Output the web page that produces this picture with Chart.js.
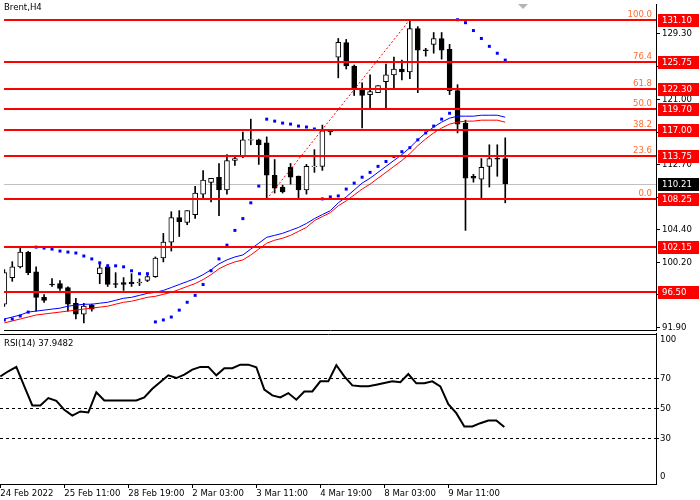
<!DOCTYPE html>
<html>
<head>
<meta charset="utf-8">
<script src="https://cdn.jsdelivr.net/npm/chart.js@4.4.0/dist/chart.umd.min.js"></script>
<style>
  body { margin: 0; background: #fff; overflow: hidden; }
  #wrap { position: relative; width: 700px; height: 500px; }
  .pane { position: absolute; left: 0; width: 700px; }
  #mainPane { top: 0; height: 334px; }
  #rsiPane { top: 332px; height: 168px; }
</style>
</head>
<body>
<div id="wrap">
  <div class="pane" id="mainPane"><canvas id="mainChart"></canvas></div>
  <div class="pane" id="rsiPane"><canvas id="rsiChart"></canvas></div>
</div>
<script>
const FONT = "'DejaVu Sans Condensed', 'Liberation Sans', sans-serif";
const FSIZE = 9.5;

// Brent H4 candles, one per 4 hours, oldest first
const opens = [94.9, 98.27, 99.64, 101.5, 99.0, 95.76, 97.45, 97.5, 97.0, 95.0,
  93.63, 94.76, 98.77, 99.65, 97.5, 97.64, 97.7, 97.6, 97.9, 98.4,
  100.77, 102.78, 105.9, 105.28, 106.29, 108.9, 110.4, 111.05, 109.42, 113.2,
  113.68, 115.75, 115.8, 115.43, 111.3, 109.8, 112.3, 111.18, 109.42, 112.38,
  112.43, 116.94, 126.33, 128.2, 125.2, 122.32, 121.57, 121.82, 123.2, 124.08,
  124.83, 124.45, 129.97, 127.25, 127.96, 128.71, 127.34, 122.07, 117.94, 111.17,
  110.8, 112.43, 113.45, 113.43];
const highs = [99.3, 100.3, 102.15, 101.6, 99.65, 96.1, 98.14, 97.9, 97.1, 95.64,
  95.0, 94.9, 100.1, 99.9, 98.9, 98.27, 98.77, 98.1, 98.77, 100.9,
  103.9, 106.66, 106.8, 106.8, 109.9, 111.9, 110.9, 112.8, 113.93, 113.68,
  116.8, 118.44, 115.9, 116.18, 113.3, 110.04, 112.8, 111.2, 112.68, 114.56,
  117.69, 117.06, 128.71, 128.59, 125.33, 123.08, 124.08, 122.7, 125.46, 126.33,
  125.96, 130.97, 130.22, 127.46, 129.47, 129.47, 127.96, 122.83, 118.31, 111.42,
  113.43, 115.18, 115.18, 116.06];
const lows = [94.6, 97.8, 99.5, 98.64, 94.0, 95.1, 97.14, 96.64, 94.0, 93.0,
  92.5, 94.0, 97.5, 97.14, 97.0, 96.64, 97.14, 97.26, 97.76, 98.3,
  100.27, 101.65, 103.5, 105.0, 105.8, 108.4, 107.9, 106.16, 108.9, 112.55,
  113.55, 115.18, 112.68, 108.4, 109.04, 109.04, 110.17, 108.4, 108.9, 111.67,
  111.92, 116.44, 123.7, 124.83, 121.45, 117.31, 119.82, 121.8, 119.82, 122.45,
  123.45, 123.58, 121.82, 126.46, 126.84, 126.08, 121.57, 116.69, 104.28, 110.42,
  108.4, 109.8, 111.17, 107.79];
const closes = [98.9, 99.65, 101.52, 98.9, 95.76, 95.38, 97.35, 96.89, 94.9, 93.63,
  94.63, 94.26, 99.52, 97.39, 97.4, 97.4, 97.5, 97.7, 98.4, 100.77,
  102.78, 105.91, 105.4, 106.8, 109.04, 110.67, 110.9, 109.42, 113.18, 113.43,
  115.81, 115.85, 115.18, 111.3, 109.67, 109.17, 111.05, 109.42, 112.43, 112.48,
  116.94, 116.86, 128.21, 125.21, 122.32, 121.45, 121.95, 122.7, 124.08, 124.83,
  124.45, 129.97, 127.21, 127.15, 128.71, 127.21, 122.07, 117.81, 110.92, 110.92,
  112.3, 113.43, 113.35, 110.21];

// moving averages (blue fast, red slow)
const maBlue = [93.00, 93.25, 93.51, 93.88, 94.01, 94.13, 94.26, 94.38, 94.63, 94.76,
  94.88, 94.88, 95.01, 95.13, 95.38, 95.64, 95.76, 96.01, 96.26, 96.39,
  96.64, 97.01, 97.39, 97.77, 98.14, 98.64, 99.27, 100.02, 100.52, 100.90,
  101.15, 101.90, 102.65, 103.40, 103.65, 103.91, 104.28, 104.66, 105.16, 105.78,
  106.29, 106.79, 107.79, 108.54, 109.42, 110.30, 110.92, 111.67, 112.43, 113.18,
  113.93, 114.81, 115.81, 116.69, 117.44, 118.06, 118.57, 118.82, 118.82, 118.82,
  118.94, 118.94, 118.94, 118.69];
const maRed = [92.50, 92.75, 93.00, 93.25, 93.51, 93.63, 93.76, 93.88, 94.01, 94.13,
  94.26, 94.38, 94.51, 94.63, 94.88, 95.13, 95.26, 95.51, 95.76, 95.89,
  96.14, 96.39, 96.76, 97.14, 97.51, 98.02, 98.64, 99.39, 99.90, 100.27,
  100.52, 101.15, 101.90, 102.65, 103.03, 103.28, 103.65, 104.16, 104.66, 105.53,
  106.04, 106.54, 107.41, 108.04, 108.79, 109.54, 110.17, 110.92, 111.67, 112.43,
  113.18, 114.05, 115.06, 115.93, 116.69, 117.31, 117.81, 118.06, 118.19, 118.19,
  118.31, 118.31, 118.31, 118.06];

// parabolic SAR
const sar = [92.88, 93.00, 93.38, 93.88, 102.15, 102.03, 101.90, 101.65, 101.52, 101.40,
  101.02, 100.65, 100.15, 99.77, 99.77, 99.64, 99.14, 98.77, 98.77, 92.63,
  92.88, 93.25, 94.13, 95.13, 96.01, 97.39, 99.14, 100.65, 102.40, 104.28,
  105.78, 107.79, 109.92, 118.44, 118.19, 117.94, 117.81, 117.56, 117.44, 117.19,
  108.29, 108.54, 108.67, 109.54, 110.30, 111.05, 111.67, 112.43, 113.05, 113.68,
  114.30, 114.81, 115.81, 116.69, 117.56, 118.44, 119.19, 131.10, 130.72, 129.72,
  128.71, 127.71, 126.83, 125.96];

// RSI(14)
const rsi = [71.5, 74.9, 77.8, 64.9, 52.2, 52.2, 57.1, 55.3, 49.3, 45.5,
  48.2, 47.5, 60.9, 55.5, 55.5, 55.5, 55.5, 55.5, 57.5, 63.3,
  67.8, 72.2, 70.4, 72.7, 76.0, 77.8, 77.8, 72.2, 76.9, 76.9,
  79.3, 79.3, 77.6, 62.7, 58.9, 57.5, 60.4, 56.0, 61.5, 61.5,
  68.2, 68.2, 78.9, 71.5, 65.5, 64.9, 64.9, 66.0, 67.1, 68.2,
  67.6, 73.1, 66.9, 66.9, 68.2, 64.9, 53.1, 47.1, 38.2, 38.2,
  40.4, 42.2, 42.2, 37.9];
const rsiNow = '37.9482';

const priceTicks = [91.90, 96.10, 100.20, 104.40, 108.50, 112.70, 116.80, 121.00, 125.10, 129.30];
const levelPrices = [131.10, 125.75, 122.30, 119.70, 117.00, 113.75, 108.25, 102.15, 96.50];
const fibLabels = ['100.0', '76.4', '61.8', '50.0', '38.2', '23.6', '0.0'];
const lastPrice = 110.21;
const fibFrom = {x: 33, y: 108.25};
const fibTo = {x: 51, y: 131.10};

const dateLabels = ['24 Feb 2022', '25 Feb 11:00', '28 Feb 19:00', '2 Mar 03:00',
  '3 Mar 11:00', '4 Mar 19:00', '8 Mar 03:00', '9 Mar 11:00'];
const dateTickIdx = [0, 8, 16, 24, 32, 40, 48, 56];
const rsiLevels = [30, 50, 70];
const rsiTickVals = [4.7, 30, 50, 70, 96];
const rsiTickText = ['0', '30', '50', '70', '100'];

const X_MIN = -0.04, X_MAX = 81.96;

const idx = opens.map((_, i) => i);

const levelsPlugin = {
  id: 'levels',
  beforeDatasetsDraw(chart) {
    const {ctx, chartArea: a, scales: {y}} = chart;
    const py = Math.round(y.getPixelForValue(lastPrice)) + 0.5;
    ctx.save();
    ctx.strokeStyle = '#c0c0c0';
    ctx.lineWidth = 1;
    ctx.beginPath();
    ctx.moveTo(a.left, py);
    ctx.lineTo(a.right, py);
    ctx.stroke();
    ctx.restore();
  },
  afterDatasetsDraw(chart) {
    const {ctx, chartArea: a, scales: {y}} = chart;
    ctx.save();
    ctx.strokeStyle = '#ff0000';
    ctx.lineWidth = 2;
    ctx.font = FSIZE + 'px ' + FONT;
    ctx.textAlign = 'right';
    ctx.textBaseline = 'bottom';
    levelPrices.forEach((p, i) => {
      const py = Math.round(y.getPixelForValue(p));
      ctx.beginPath();
      ctx.moveTo(a.left, py);
      ctx.lineTo(a.right, py);
      ctx.stroke();
      if (fibLabels[i]) {
        ctx.fillStyle = '#ff6e2e';
        ctx.fillText(fibLabels[i], a.right - 4, py - 1);
      }
    });
    ctx.restore();
  },
  afterDraw(chart) {
    const {ctx, chartArea: a, scales: {y}} = chart;
    ctx.save();
    // bottom frame
    ctx.strokeStyle = '#000';
    ctx.lineWidth = 1;
    ctx.beginPath();
    ctx.moveTo(a.left, a.bottom + 0.5);
    ctx.lineTo(a.right + 1, a.bottom + 0.5);
    ctx.stroke();

    // shift marker
    ctx.fillStyle = '#b4b4b4';
    ctx.beginPath();
    ctx.moveTo(518, a.top);
    ctx.lineTo(528, a.top);
    ctx.lineTo(523, a.top + 5);
    ctx.closePath();
    ctx.fill();

    ctx.font = FSIZE + 'px ' + FONT;
    ctx.textBaseline = 'middle';
    ctx.textAlign = 'left';
    const box = (p, bg) => {
      const py = Math.round(y.getPixelForValue(p));
      ctx.fillStyle = bg;
      ctx.fillRect(a.right + 2, py - 6, 41, 13);
      ctx.fillStyle = '#fff';
      ctx.fillText(p.toFixed(2), a.right + 6, py + 0.5);
    };
    levelPrices.forEach(p => box(p, '#ff0000'));
    box(lastPrice, '#000');

    ctx.fillStyle = '#000';
    ctx.fillText('Brent,H4', 4, 8);
    ctx.restore();
  }
};

new Chart(document.getElementById('mainChart'), {
  type: 'bar',
  data: {
    datasets: [
      {
        type: 'line',
        data: [fibFrom, fibTo],
        borderColor: '#ff0000',
        borderWidth: 1,
        borderDash: [2, 2],
        pointRadius: 0,
        order: 0
      },
      {
        type: 'line',
        data: sar.map((v, i) => ({x: i, y: v})),
        showLine: false,
        pointStyle: 'rect',
        pointRadius: 2.1,
        pointBackgroundColor: '#0000ff',
        pointBorderWidth: 0,
        order: 1
      },
      {
        type: 'line',
        data: maBlue.map((v, i) => ({x: i, y: v})),
        borderColor: '#0000ff',
        borderWidth: 1,
        pointRadius: 0,
        order: 2
      },
      {
        type: 'line',
        data: maRed.map((v, i) => ({x: i, y: v})),
        borderColor: '#ff0000',
        borderWidth: 1,
        pointRadius: 0,
        order: 3
      },
      {
        data: idx.map(i => ({x: i, y: [opens[i], closes[i]]})),
        backgroundColor: idx.map(i => closes[i] >= opens[i] ? '#ffffff' : '#000000'),
        borderColor: '#000',
        borderWidth: 1,
        borderSkipped: false,
        barThickness: 5,
        grouped: false,
        order: 4
      },
      {
        data: idx.map(i => ({x: i, y: [lows[i], highs[i]]})),
        backgroundColor: '#000',
        borderWidth: 0,
        barThickness: 1,
        grouped: false,
        order: 5
      }
    ]
  },
  options: {
    animation: false,
    responsive: true,
    maintainAspectRatio: false,
    layout: {padding: {left: 0, right: 0, top: 0, bottom: 3}},
    plugins: {legend: {display: false}, tooltip: {enabled: false}},
    scales: {
      x: {
        type: 'linear',
        min: X_MIN,
        max: X_MAX,
        offset: false,
        display: false
      },
      y: {
        position: 'right',
        min: 91.6,
        max: 133.1,
        afterBuildTicks: s => { s.ticks = priceTicks.map(v => ({value: v})); },
        afterFit: s => { s.width = 44; s.paddingTop = 0; s.paddingBottom = 0; },
        grid: {drawOnChartArea: false, drawTicks: true, tickLength: 4, color: '#000'},
        border: {display: true, color: '#000'},
        ticks: {
          padding: 2,
          color: '#000',
          font: {family: FONT, size: FSIZE},
          autoSkip: false,
          callback: v => v.toFixed(2)
        }
      }
    }
  },
  plugins: [levelsPlugin]
});

const rsiPlugin = {
  id: 'rsiFrame',
  afterDraw(chart) {
    const {ctx, chartArea: a} = chart;
    ctx.save();
    ctx.strokeStyle = '#000';
    ctx.lineWidth = 1;
    ctx.beginPath();
    ctx.moveTo(a.left, Math.round(a.top) + 0.5);
    ctx.lineTo(a.right + 1, Math.round(a.top) + 0.5);
    ctx.stroke();
    ctx.font = FSIZE + 'px ' + FONT;
    ctx.fillStyle = '#000';
    ctx.textBaseline = 'middle';
    ctx.textAlign = 'left';
    ctx.fillText('RSI(14) ' + rsiNow, 4, a.top + 10);
    ctx.restore();
  }
};

new Chart(document.getElementById('rsiChart'), {
  type: 'line',
  data: {
    datasets: [{
      data: rsi.map((v, i) => ({x: i, y: v})),
      borderColor: '#000',
      borderWidth: 2,
      pointRadius: 0,
      tension: 0
    }]
  },
  options: {
    animation: false,
    responsive: true,
    maintainAspectRatio: false,
    layout: {padding: {left: 0, right: 0, top: 1.5, bottom: 0}},
    plugins: {legend: {display: false}, tooltip: {enabled: false}},
    scales: {
      x: {
        type: 'linear',
        min: X_MIN,
        max: X_MAX,
        position: 'bottom',
        afterBuildTicks: s => { s.ticks = dateTickIdx.map(v => ({value: v})); },
        afterFit: s => { s.height = 16; s.paddingLeft = 0; s.paddingRight = 0; },
        grid: {drawOnChartArea: false, drawTicks: true, tickLength: 4, color: '#000'},
        border: {display: true, color: '#000'},
        ticks: {
          align: 'start',
          autoSkip: false,
          maxRotation: 0,
          padding: 0,
          color: '#000',
          font: {family: FONT, size: FSIZE},
          callback: (v, i) => dateLabels[i]
        }
      },
      y: {
        position: 'right',
        min: 0,
        max: 100,
        afterBuildTicks: s => { s.ticks = rsiTickVals.map(v => ({value: v})); },
        afterFit: s => { s.width = 44; s.paddingTop = 0; s.paddingBottom = 0; },
        grid: {
          drawOnChartArea: true,
          drawTicks: true,
          tickLength: 3,
          tickBorderDash: [],
          color: c => (c.tick && rsiLevels.includes(c.tick.value)) ? '#000' : 'rgba(0,0,0,0)'
        },
        border: {display: true, color: '#000', dash: [3, 3]},
        ticks: {
          padding: 1,
          color: '#000',
          font: {family: FONT, size: FSIZE},
          autoSkip: false,
          callback: (v, i) => rsiTickText[i]
        }
      }
    }
  },
  plugins: [rsiPlugin]
});
</script>
</body>
</html>
